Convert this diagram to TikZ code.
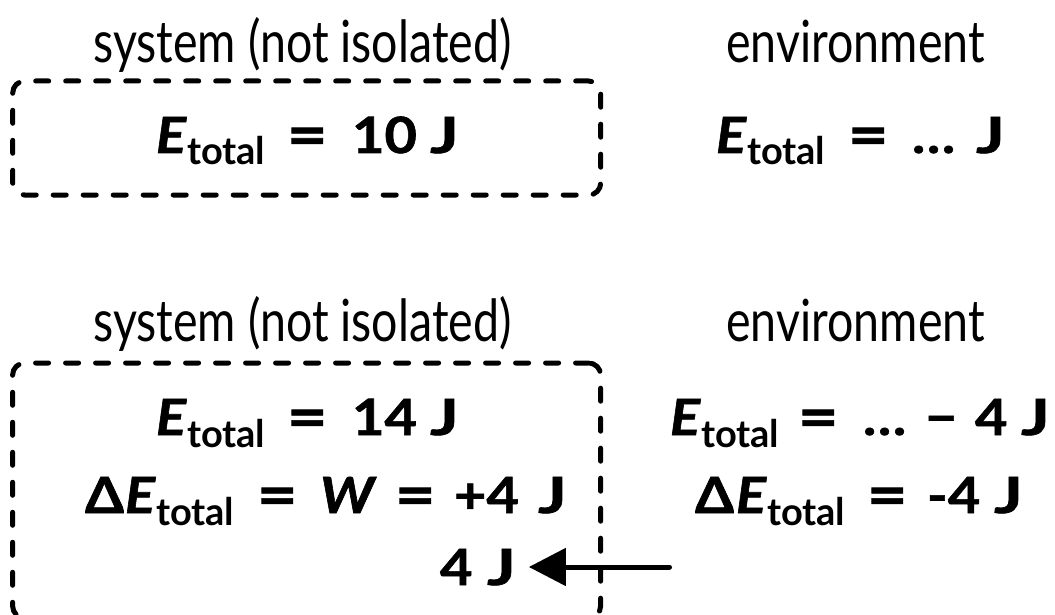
\documentclass[tikz,border=0pt]{standalone}
\usepackage{fontspec}
\setmainfont{Lato}
\newfontfamily\latoeq[FakeBold=1.2,FakeStretch=1.12]{Lato}
\usetikzlibrary{arrows.meta}
\tikzset{
  every node/.style={inner sep=0pt,outer sep=0pt},
  lbl/.style={anchor=base,font=\fontsize{46.5}{56}\selectfont},
  eq/.style={anchor=base west,font=\latoeq\fontsize{50}{60}\selectfont\bfseries},
  sysbox/.style={draw,line width=5pt,line cap=round,dash pattern=on 13pt off 17pt,rounded corners=12pt},
  flow/.style={line width=5pt,line cap=round,-{Triangle[length=37pt,width=37pt]}}
}
\newcommand{\Et}{{\itshape E}\kern1pt\raisebox{-12pt}{\normalfont\bfseries\fontsize{38}{38}\selectfont total}}
\newcommand{\EQ}{\raisebox{-3pt}{\scalebox{1.25}[1.2]{=}}}
\newcommand{\JJ}{\scalebox{1.2}[1]{J}}
\newcommand{\tall}[1]{\scalebox{1}[1.25]{#1}}
\begin{document}
\begin{tikzpicture}[x=1pt,y=-1pt]
\useasboundingbox (0,0) rectangle (1055,615);
\clip (0,0) rectangle (1055,615);
% ---------- top row ----------
\node[lbl] (sys1) at (302.5,63) {\tall{system (not isolated)}};
\node[lbl] (env1) at (855.5,63) {\tall{environment}};
\node[sysbox,minimum width=588pt,minimum height=114pt] (box1) at (306.7,138) {};
% system: E_total = 10 J
\node[eq] (e1E) at (156,153) {\Et};
\node[eq] (e1q) at (287,153) {\EQ};
\node[eq] (e1n) at (352,153) {10};
\node[eq] (e1J) at (430,153) {\JJ};
% environment: E_total = ... J
\node[eq] (e2E) at (716,153) {\Et};
\node[eq] (e2q) at (848,153) {\EQ};
\node[eq] (e2d) at (912,153) {…};
\node[eq] (e2J) at (976,153) {\JJ};
% ---------- bottom row ----------
\node[lbl] (sys2) at (302.5,341) {\tall{system (not isolated)}};
\node[lbl] (env2) at (855.5,341) {\tall{environment}};
\node[sysbox,minimum width=588pt,minimum height=255pt] (box2) at (306.6,490.5) {};
% system: E_total = 14 J
\node[eq] (e3E) at (156,435) {\Et};
\node[eq] (e3q) at (287,435) {\EQ};
\node[eq] (e3n) at (352,435) {14};
\node[eq] (e3J) at (430,435) {\JJ};
% system: Delta E_total = W = +4 J
\node[eq] (e4D) at (85,513) {Δ};
\node[eq] (e4E) at (125,513) {\Et};
\node[eq] (e4q) at (257,513) {\EQ};
\node[eq] (e4W) at (320,513) {\itshape W};
\node[eq] (e4r) at (395,513) {\EQ};
\node[eq] (e4n) at (454,513) {+4};
\node[eq] (e4J) at (538,513) {\JJ};
% transferred work
\node[eq] (e5n) at (440,585) {4};
\node[eq] (e5J) at (487,585) {\JJ};
% environment: E_total = ... - 4 J
\node[eq] (e6E) at (670,435) {\Et};
\node[eq] (e6q) at (798,435) {\EQ};
\node[eq] (e6d) at (863,435) {…};
\node[eq] (e6m) at (925,435) {−};
\node[eq] (e6n) at (975,435) {4};
\node[eq] (e6J) at (1021,435) {\JJ};
% environment: Delta E_total = -4 J
\node[eq] (e7D) at (695,513) {Δ};
\node[eq] (e7E) at (736,513) {\Et};
\node[eq] (e7q) at (867,513) {\EQ};
\node[eq] (e7n) at (927,513) {-4};
\node[eq] (e7J) at (994,513) {\JJ};
% arrow
\coordinate (src) at (669.5,567);
\draw[flow,shorten >=13pt] (src) -- (src -| e5J.east);
\end{tikzpicture}
\end{document}
